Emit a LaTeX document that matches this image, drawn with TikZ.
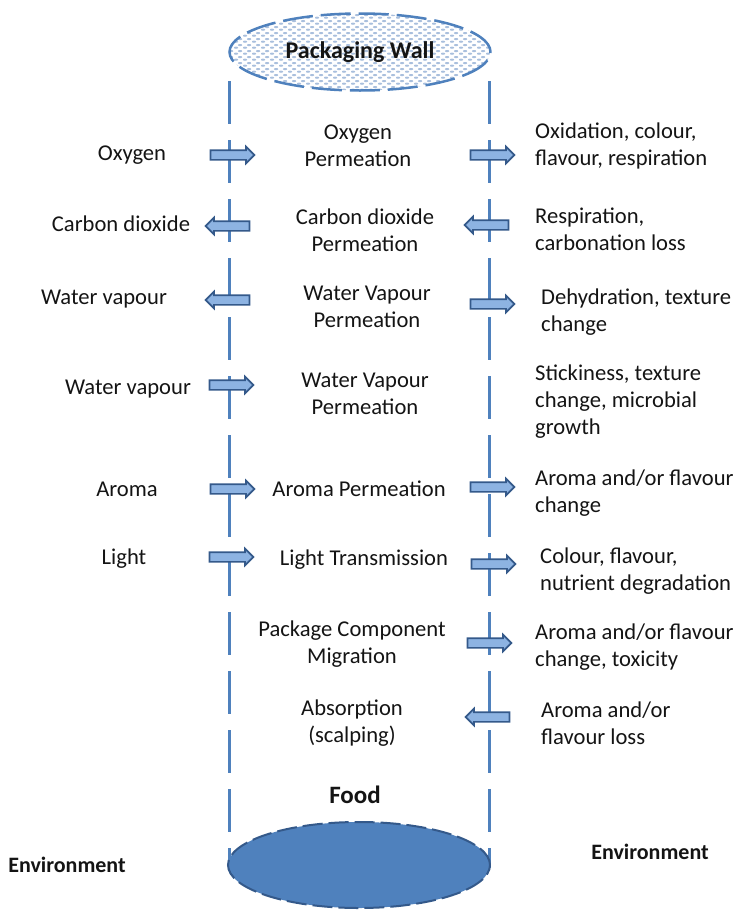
\documentclass[tikz,border=0pt]{standalone}
\usepackage{fontspec}
\setmainfont{Carlito}
\usetikzlibrary{shapes.geometric,shapes.arrows,patterns.meta}

\definecolor{lineblue}{HTML}{4F81BD}
\definecolor{arrowfill}{HTML}{8DB3E2}
\definecolor{arrowedge}{HTML}{34598A}
\definecolor{dotblue}{HTML}{A9BFDD}
\definecolor{txt}{HTML}{141414}

\tikzdeclarepattern{
  name=walldots, type=uncolored,
  bottom left={(0pt,0pt)}, top right={(9pt,6pt)}, tile size={(9pt,6pt)},
  code={\fill (2.25pt,1.5pt) ellipse [x radius=2.4pt, y radius=1.25pt];
        \fill (6.75pt,4.5pt) ellipse [x radius=2.4pt, y radius=1.25pt];}
}

\begin{document}
\begin{tikzpicture}[x=1pt,y=-1pt,
  every node/.style={text=txt},
  lbl/.style={inner sep=0pt, font=\fontsize{22.6}{27}\selectfont, align=center},
  rlbl/.style={inner sep=0pt, font=\fontsize{22.6}{27}\selectfont, align=left, anchor=west},
  boldlbl/.style={inner sep=0pt, font=\fontsize{22}{27}\selectfont\bfseries},
  side/.style={draw=lineblue, line width=3pt, dash pattern=on 43pt off 16pt},
  arrbase/.style={single arrow, draw=arrowedge, fill=arrowfill, line width=1.7pt,
    minimum height=44pt, minimum width=15pt, single arrow head extend=3.5pt,
    inner sep=4pt, single arrow tip angle=90},
  arrR/.style={arrbase},
  arrL/.style={arrbase, shape border rotate=180},
]
\useasboundingbox (0,0) rectangle (738,913);

% cylinder sides
\draw[side] (229,81) -- (229,868);
\draw[side] (489,81) -- (489,868);

% top ellipse: packaging wall
\node[ellipse, draw=lineblue, line width=2.5pt, dash pattern=on 30pt off 8pt,
  preaction={fill=white}, pattern=walldots, pattern color=dotblue,
  minimum width=261pt, minimum height=77pt, inner sep=0pt,
  font=\fontsize{24}{28}\selectfont\bfseries] (wall) at (360,52) {Packaging Wall};

% bottom ellipse: food
\node[ellipse, draw=arrowedge, fill=lineblue, line width=2pt, dash pattern=on 20pt off 6pt,
  minimum width=262pt, minimum height=86pt] (base) at (359,865) {};
\node[inner sep=0pt, font=\fontsize{25}{30}\selectfont\bfseries] (food) at (355,795) {Food};

% left labels
\node[lbl] (l1) at (132,155) {Oxygen};
\node[lbl] (l2) at (121,224) {Carbon dioxide};
\node[lbl] (l3) at (104,299) {Water vapour};
\node[lbl] (l4) at (128,389) {Water vapour};
\node[lbl] (l5) at (127,489) {Aroma};
\node[lbl] (l6) at (124,559) {Light};

% left arrows
\node[arrR] (al1) at (230,155) {};
\node[arrL] (al2) at (230,226) {};
\node[arrL] (al3) at (230,300) {};
\node[arrR] (al4) at (229,385) {};
\node[arrR] (al5) at (230,489) {};
\node[arrR] (al6) at (229,557) {};

% middle labels
\node[lbl] (m1) at (358,146) {Oxygen\\Permeation};
\node[lbl] (m2) at (365,230) {Carbon dioxide\\Permeation};
\node[lbl] (m3) at (367,307) {Water Vapour\\Permeation};
\node[lbl] (m4) at (365,394) {Water Vapour\\Permeation};
\node[lbl] (m5) at (359,489) {Aroma Permeation};
\node[lbl] (m6) at (364,560) {Light Transmission};
\node[lbl] (m7) at (352,644) {Package Component\\Migration};
\node[lbl] (m8) at (352,723) {Absorption\\(scalping)};

% right arrows
\node[arrR] (ar1) at (490,155) {};
\node[arrL] (ar2) at (489,225) {};
\node[arrR] (ar3) at (490,304) {};
\node[arrR] (ar5) at (490,487) {};
\node[arrR] (ar6) at (491,564) {};
\node[arrR] (ar7) at (487,643) {};
\node[arrL] (ar8) at (490,717) {};

% right labels
\node[rlbl] (r1) at (535,146) {Oxidation, colour,\\flavour, respiration};
\node[rlbl] (r2) at (535,229) {Respiration,\\carbonation loss};
\node[rlbl] (r3) at (541,312) {Dehydration, texture\\change};
\node[rlbl] (r4) at (535,402) {Stickiness, texture\\change, microbial\\growth};
\node[rlbl] (r5) at (535,493) {Aroma and/or flavour\\change};
\node[rlbl] (r6) at (540,571) {Colour, flavour,\\nutrient degradation};
\node[rlbl] (r7) at (535,647) {Aroma and/or flavour\\change, toxicity};
\node[rlbl] (r8) at (541,723) {Aroma and/or\\flavour loss};

% environment labels
\node[boldlbl] (envl) at (67,865) {Environment};
\node[boldlbl] (envr) at (650,852) {Environment};
\end{tikzpicture}
\end{document}
